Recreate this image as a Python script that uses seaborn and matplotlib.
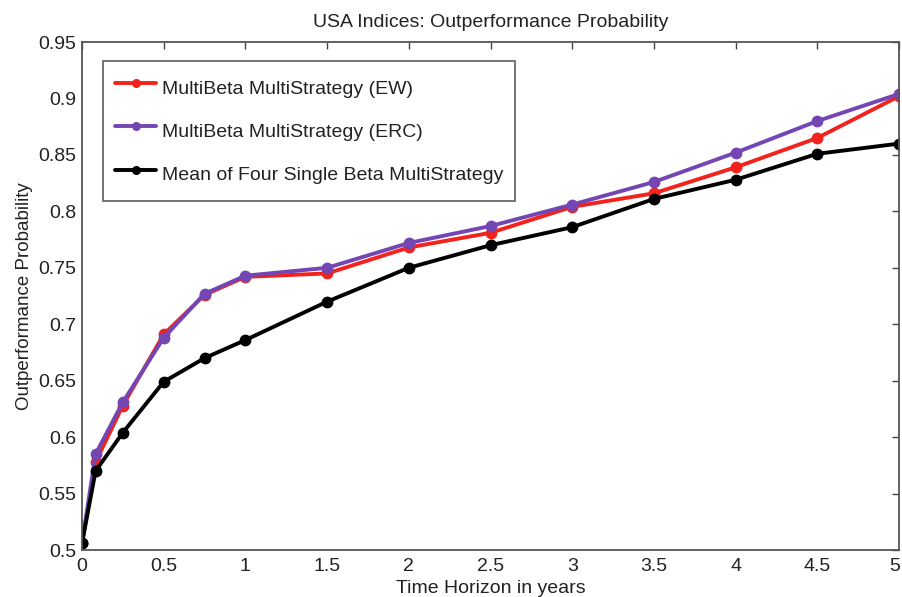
import matplotlib
matplotlib.use("Agg")
import matplotlib.pyplot as plt
import matplotlib.transforms as mtransforms
import seaborn as sns
import pandas as pd

# ---- data ----
horizon = [0, 1/12, 0.25, 0.5, 0.75, 1, 1.5, 2, 2.5, 3, 3.5, 4, 4.5, 5]
ew = [0.506, 0.578, 0.628, 0.691, 0.726, 0.742, 0.745, 0.768, 0.781, 0.804, 0.816, 0.839, 0.865, 0.902]
erc = [0.506, 0.585, 0.631, 0.688, 0.727, 0.743, 0.750, 0.772, 0.787, 0.806, 0.826, 0.852, 0.880, 0.904]
mean4 = [0.506, 0.570, 0.604, 0.649, 0.670, 0.686, 0.720, 0.750, 0.770, 0.786, 0.811, 0.828, 0.851, 0.860]
series_names = ["MultiBeta MultiStrategy (EW)",
                "MultiBeta MultiStrategy (ERC)",
                "Mean of Four Single Beta MultiStrategy"]
x_ticks = [0, 0.5, 1, 1.5, 2, 2.5, 3, 3.5, 4, 4.5, 5]
x_tick_labels = ["0", "0.5", "1", "1.5", "2", "2.5", "3", "3.5", "4", "4.5", "5"]
y_ticks = [0.5, 0.55, 0.6, 0.65, 0.7, 0.75, 0.8, 0.85, 0.9, 0.95]
y_tick_labels = ["0.5", "0.55", "0.6", "0.65", "0.7", "0.75", "0.8", "0.85", "0.9", "0.95"]

rows = []
for name, vals in zip(series_names, [ew, erc, mean4]):
    for x, v in zip(horizon, vals):
        rows.append({"Horizon": x, "Prob": v, "Series": name})
df = pd.DataFrame(rows)

sns.set_style("white")
plt.rcParams["font.family"] = ["Liberation Sans", "DejaVu Sans"]

fig = plt.figure(figsize=(9.02, 5.97), dpi=100)
ax = fig.add_axes([0.0909, 0.0787, 0.9058, 0.8509])

palette = {series_names[0]: "#f2231c", series_names[1]: "#7446b4", series_names[2]: "#000000"}
sns.lineplot(data=df, x="Horizon", y="Prob", hue="Series", palette=palette,
             hue_order=series_names, marker="o", markersize=8.5, linewidth=2.8,
             markeredgewidth=0, ax=ax, sort=False)

ax.set_xlim(0, 5)
ax.set_ylim(0.5, 0.95)
ax.set_xticks(x_ticks)
ax.set_xticklabels(x_tick_labels)
ax.set_yticks(y_ticks)
ax.set_yticklabels(y_tick_labels)
ax.tick_params(direction="in", length=5, width=1, top=True, right=True,
               labelsize=14, colors="#444444", labelcolor="#222222", pad=4)
ax.tick_params(axis="x", pad=5.5)
# keep the last x tick label inside the canvas
last = ax.get_xticklabels()[-1]
last.set_transform(last.get_transform() +
                   mtransforms.ScaledTranslation(-4 / 100, 0, fig.dpi_scale_trans))
for s in ax.spines.values():
    s.set_color("#555555")
    s.set_linewidth(1.3)
    s.set_visible(True)

ax.set_title("USA Indices: Outperformance Probability", fontsize=14, color="#222222", pad=11)
ax.set_xlabel("Time Horizon in years", fontsize=14, color="#222222", labelpad=4)
ax.set_ylabel("Outperformance Probability", fontsize=13.5, color="#222222", labelpad=4)

handles, labels = ax.get_legend_handles_labels()
for h in handles:
    h.set_markersize(6.5)
leg = ax.legend(handles, labels, loc="upper left", bbox_to_anchor=(0.0257, 0.9626),
                borderaxespad=0, frameon=True, fancybox=False, edgecolor="#444444",
                fontsize=14, handlelength=2.15, handleheight=1.98, labelspacing=0.69,
                borderpad=0.6, handletextpad=0.3)
leg.get_frame().set_linewidth(1.3)
for t in leg.get_texts():
    t.set_color("#222222")

fig.savefig("out.png", dpi=100)
